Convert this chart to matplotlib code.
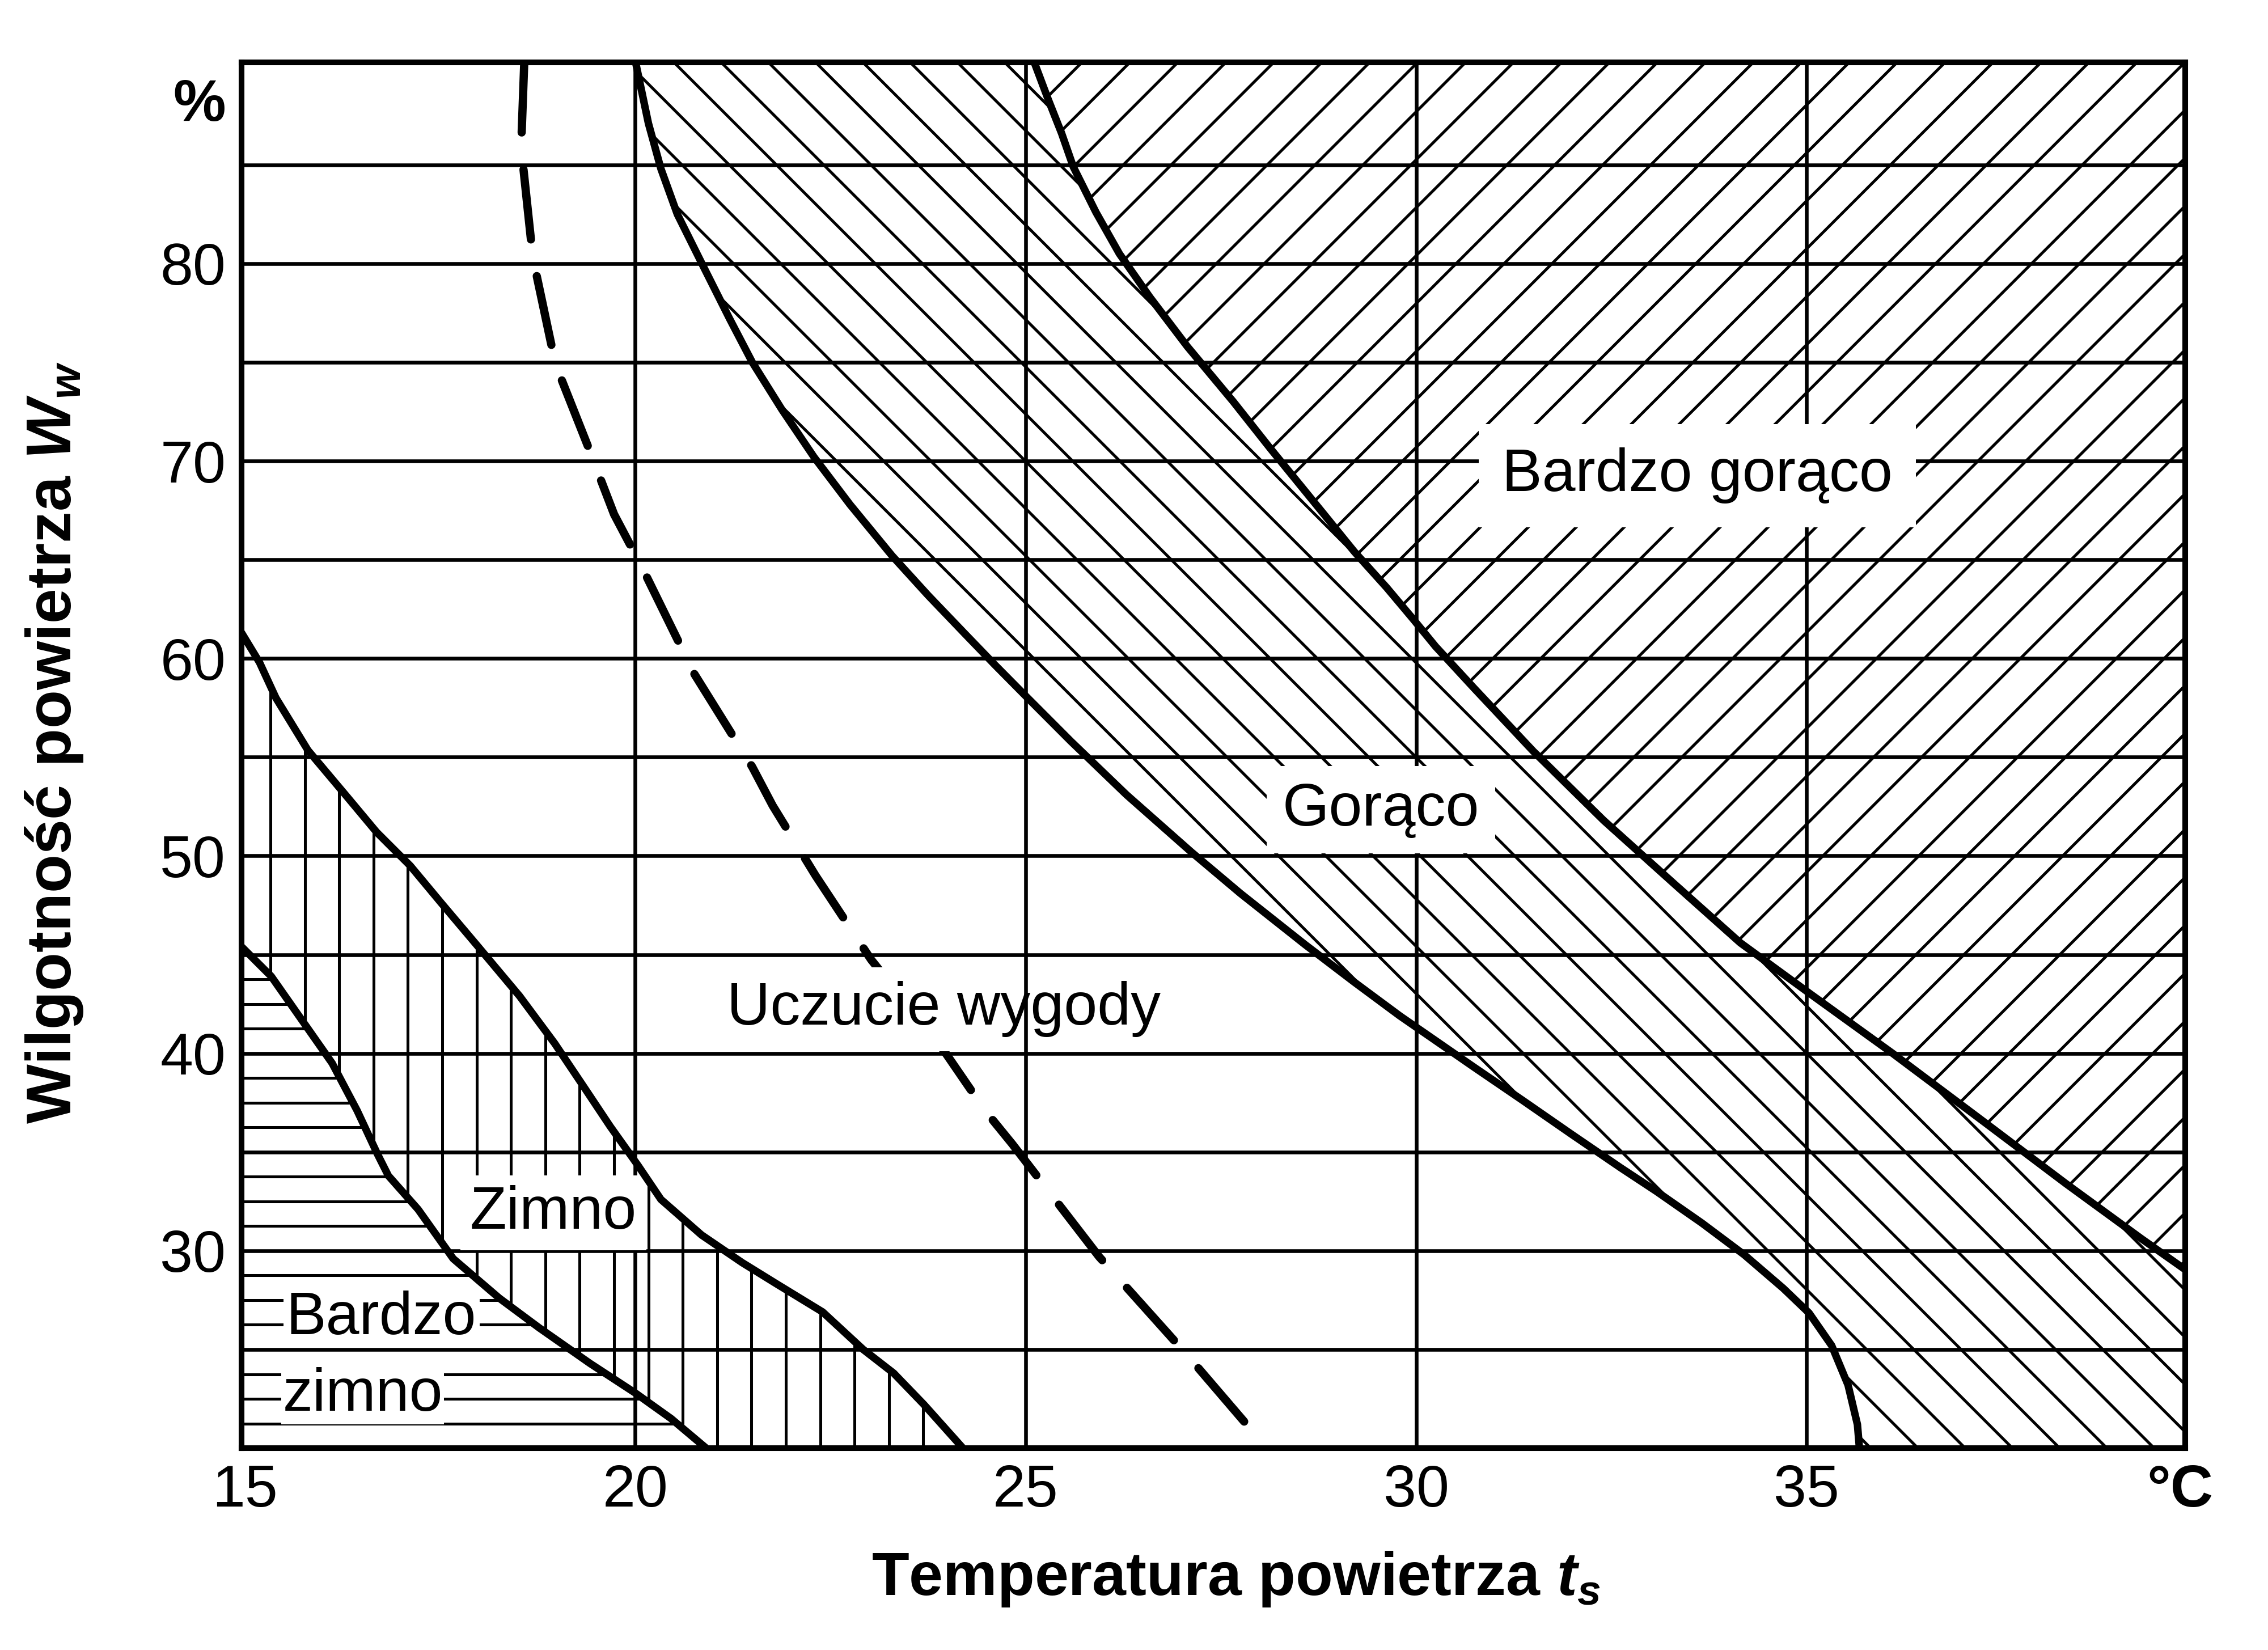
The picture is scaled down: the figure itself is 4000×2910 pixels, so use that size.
import numpy as np
import matplotlib
matplotlib.use('Agg')
import matplotlib.pyplot as plt
from matplotlib.collections import LineCollection
from matplotlib.patches import Polygon

plt.rcParams['font.family'] = ['Liberation Sans', 'DejaVu Sans']
plt.rcParams['mathtext.fontset'] = 'custom'
plt.rcParams['mathtext.rm'] = 'Liberation Sans'
plt.rcParams['mathtext.it'] = 'Liberation Sans:italic'
plt.rcParams['mathtext.bf'] = 'Liberation Sans:bold'
plt.rcParams['mathtext.bfit'] = 'Liberation Sans:bold:italic'

# granice stref: temperatura (°C) i wilgotnosc (%)
t_bardzo_zimno = [14.96, 15.34, 15.73, 16.12, 16.44, 16.70, 16.84, 17.22, 17.67, 18.26, 18.77, 19.42, 20.0, 20.46, 20.94]
w_bardzo_zimno = [45.4, 43.9, 41.7, 39.5, 37.1, 34.9, 33.8, 32.1, 29.6, 27.6, 26.1, 24.3, 22.8, 21.5, 19.9]

t_zimno = [14.96, 15.19, 15.40, 15.81, 16.31, 16.69, 17.12, 17.52, 17.99, 18.52, 18.97, 19.36, 19.68,
           20.04, 20.33, 20.85, 21.37, 21.82, 22.40, 22.92, 23.31, 23.70, 24.22]
w_zimno = [61.3, 59.8, 58.0, 55.35, 53.0, 51.2, 49.5, 47.6, 45.4, 42.9, 40.5, 38.2, 36.3,
           34.3, 32.6, 30.8, 29.4, 28.3, 26.9, 25.0, 23.8, 22.2, 19.9]

t_wygoda = [18.58, 18.54, 18.69, 18.98, 19.39, 19.73, 20.09, 20.76, 21.5, 21.76, 22.31, 23.02,
            23.96, 24.48, 24.83, 25.94, 27.05, 28.09]
w_wygoda = [90.2, 85.9, 80.3, 74.9, 70.8, 67.3, 64.6, 59.2, 54.5, 52.55, 49.0, 44.75,
            40.1, 37.1, 35.4, 29.7, 24.8, 20.0]

t_goraco = [20.0, 20.17, 20.33, 20.54, 20.88, 21.21, 21.50, 21.88, 22.29, 22.75, 23.29, 23.75, 24.21,
            24.60, 25.0, 25.58, 26.29, 27.12, 27.75, 28.58, 29.21, 29.79, 30.74, 31.37, 31.99, 32.62,
            33.08, 33.66, 34.20, 34.70, 35.03, 35.32, 35.53, 35.65, 35.68]
w_goraco = [90.3, 87.1, 84.8, 82.5, 79.8, 77.2, 75.0, 72.6, 70.2, 67.8, 65.2, 63.2, 61.3,
            59.7, 58.1, 55.8, 53.1, 50.2, 48.1, 45.5, 43.6, 41.9, 39.3, 37.6, 35.9, 34.2,
            33.0, 31.4, 29.8, 28.1, 26.85, 25.2, 23.2, 21.2, 19.8]

t_bardzo_goraco = [25.10, 25.29, 25.46, 25.61, 25.90, 26.20, 26.59, 27.07, 27.66, 28.14, 28.82, 29.21,
                   29.62, 29.96, 30.25, 30.74, 31.50, 32.40, 33.30, 34.15, 35.05, 36.10, 37.28, 38.32,
                   39.29, 39.9]
w_bardzo_goraco = [90.3, 88.3, 86.6, 84.9, 82.6, 80.5, 78.3, 75.8, 73.0, 70.6, 67.3, 65.4,
                   63.6, 62.0, 60.6, 58.5, 55.3, 51.8, 48.6, 45.6, 43.0, 40.0, 36.5, 33.4,
                   30.6, 28.9]

siatka_t = [20, 25, 30, 35]
siatka_w = [25, 30, 35, 40, 45, 50, 55, 60, 65, 70, 75, 80, 85]
ticks_t = [15, 20, 25, 30, 35, 39.78]
ticks_t_lab = ['15', '20', '25', '30', '35', '°C']
ticks_w = [30, 40, 50, 60, 70, 80, 88.3]
ticks_w_lab = ['30', '40', '50', '60', '70', '80', '%']

# napisy: tekst, t, w (linia bazowa)
napisy = [('Bardzo gorąco', 33.60, 68.47), ('Gorąco', 29.55, 51.55), ('Uczucie wygody', 23.95, 41.45),
          ('Zimno', 18.95, 31.13), ('Bardzo', 16.75, 25.77), ('zimno', 16.51, 21.9)]

xlim = (14.96, 39.85)
ylim = (20.0, 90.2)
pos = [0.1065, 0.1223, 0.8571, 0.8400]
FW, FH = 16, 11.64

fig = plt.figure(figsize=(FW, FH), dpi=250)
ax = fig.add_axes(pos)
ax.set_xlim(*xlim)
ax.set_ylim(*ylim)

# nachylenie 45 stopni w pikselach
k = (FW * pos[2] / (xlim[1] - xlim[0])) / (FH * pos[3] / (ylim[1] - ylim[0]))


def kreskowanie(xs, ys, segs):
    clip = Polygon(np.column_stack([xs, ys]), closed=True, facecolor='none', edgecolor='none')
    ax.add_patch(clip)
    lc = LineCollection(segs, colors='black', linewidths=1.45, zorder=1.1)
    ax.add_collection(lc)
    lc.set_clip_path(clip)


poziome = [((13, y), (42, y)) for y in np.arange(20, 91, 1.25)]
pionowe = [((x, 18), (x, 92)) for x in np.arange(15.33, 41, 0.44)]
ukosne_l = [((x - 20, 40 + 20 * k), (x + 20, 40 - 20 * k)) for x in 35.0 + 0.605 * np.arange(-80, 80)]
ukosne_p = [((x - 20, 85 - 20 * k), (x + 20, 85 + 20 * k)) for x in 35.46 + 0.614 * np.arange(-80, 80)]

# bardzo zimno
kreskowanie([13] + t_bardzo_zimno + [t_bardzo_zimno[-1], 13],
            [w_bardzo_zimno[0]] + w_bardzo_zimno + [18, 18], poziome)
# zimno
kreskowanie([13] + t_zimno + [t_zimno[-1]] + [t_bardzo_zimno[-1]] + t_bardzo_zimno[::-1] + [13],
            [w_zimno[0]] + w_zimno + [18, 18] + w_bardzo_zimno[::-1] + [w_bardzo_zimno[0]], pionowe)
# goraco
kreskowanie([t_goraco[0]] + t_goraco + [t_goraco[-1], 42, 42] + t_bardzo_goraco[::-1] + [t_bardzo_goraco[0]],
            [92] + w_goraco + [18, 18, w_bardzo_goraco[-1]] + w_bardzo_goraco[::-1] + [92], ukosne_l)
# bardzo goraco
kreskowanie([t_bardzo_goraco[0]] + t_bardzo_goraco + [42, 42],
            [92] + w_bardzo_goraco + [w_bardzo_goraco[-1], 92], ukosne_p)

for t in siatka_t:
    ax.axvline(t, color='black', lw=1.9, zorder=2)
for w in siatka_w:
    ax.axhline(w, color='black', lw=1.9, zorder=2)

ax.plot(t_wygoda, w_wygoda, color='black', lw=4.2, linestyle=(0, (8.5, 4.5)),
        dash_capstyle='round', zorder=1.2)
for t, w in [(t_bardzo_zimno, w_bardzo_zimno), (t_zimno, w_zimno),
             (t_goraco, w_goraco), (t_bardzo_goraco, w_bardzo_goraco)]:
    ax.plot(t, w, color='black', lw=3.8, solid_capstyle='round', solid_joinstyle='round', zorder=4)

pady = {'Bardzo gorąco': (12, 3), 'Gorąco': (8, 3), 'Uczucie wygody': (7, 1.5),
        'Zimno': (5, 3), 'Bardzo': (1.5, 1.5), 'zimno': (0.5, 1.5)}
for tekst, t, w in napisy:
    pad, z = pady[tekst]
    ax.text(t, w, tekst, fontsize=30.5, ha='center', va='baseline', zorder=z,
            bbox=dict(facecolor='white', edgecolor='none', pad=pad))

ax.set_xticks(ticks_t)
ax.set_xticklabels(ticks_t_lab)
ax.set_yticks(ticks_w)
ax.set_yticklabels(ticks_w_lab)
ax.tick_params(length=0, labelsize=30, pad=8)
ax.get_xticklabels()[-1].set_fontweight('bold')
ax.get_yticklabels()[-1].set_fontweight('bold')

for s in ax.spines.values():
    s.set_linewidth(2.9)
    s.set_zorder(5)

fig.text(0.545, 0.0333, 'Temperatura powietrza $\\mathbfit{t}_{\\mathbfit{s}}$', fontsize=31,
         fontweight='bold', ha='center', va='baseline')
fig.text(0.0313, 0.550, 'Wilgotność powietrza $\\mathbfit{W}_{\\mathbfit{w}}$', fontsize=32,
         fontweight='bold', ha='center', va='baseline', rotation=90, rotation_mode='anchor')

fig.savefig('out.png', dpi=250)
